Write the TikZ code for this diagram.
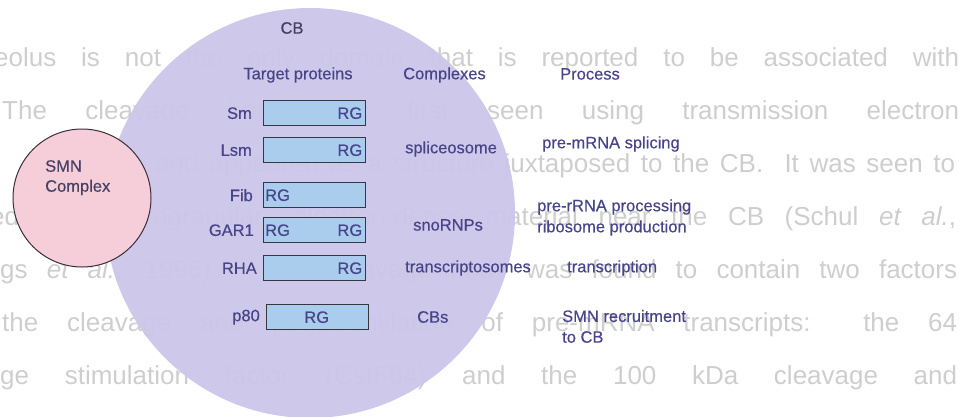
\documentclass[tikz,border=0pt]{standalone}
\usepackage{fontspec}
\setmainfont{Liberation Sans}
\newfontfamily\diagfont[FakeBold=0.4]{Liberation Sans}
\definecolor{dtext}{RGB}{72,68,138}
\definecolor{smntext}{RGB}{70,64,100}
\definecolor{boxline}{RGB}{55,55,65}
\definecolor{boxfill}{RGB}{170,205,238}
\definecolor{cbfill}{RGB}{204,198,233}
\definecolor{smnfill}{RGB}{246,206,218}
\definecolor{smnline}{RGB}{60,45,60}
\definecolor{bggray}{RGB}{206,206,206}
\begin{document}
\begin{tikzpicture}[x=1pt,y=-1pt,
  lbl/.style={text=dtext, font=\diagfont\fontsize{16.5}{19}\selectfont, inner sep=0pt},
  rgbox/.style={draw=boxline, line width=1.4pt, fill=boxfill, minimum width=102pt, minimum height=25pt, inner sep=0pt, anchor=north west},
  bgline/.style={text=bggray, font=\fontsize{26}{30}\selectfont, inner sep=0pt, anchor=west}]
\useasboundingbox (0,0) rectangle (959,416);
\clip (0,0) rectangle (959,416);
% background page text
\node[bgline] (bg1) at (-6,60) {\makebox[965pt][s]{eolus is not the only domain that is reported to be associated with}};
\node[bgline] (bg2) at (2,113) {\makebox[957pt][s]{The cleavage body was first seen using transmission electron}};
\node[bgline] (bg3) at (155,166) {\makebox[800pt][s]{and appeared as a structure juxtaposed to the CB.\ \ It was seen to}};
\node[bgline] (bg4) at (-10,219) {\makebox[966pt][s]{ed of a fibrogranular, electron-dense material near the CB (Schul \textit{et al.},}};
\node[bgline] (bg5) at (0,272) {\makebox[957pt][s]{gs \textit{et al.}, 1996). The cleavage body was found to contain two factors}};
\node[bgline] (bg6) at (2,325) {\makebox[955pt][s]{the cleavage and polyadenylation of pre-mRNA transcripts: the 64}};
\node[bgline] (bg7) at (0,378) {\makebox[957pt][s]{ge stimulation factor (CstF64) and the 100 kDa cleavage and}};
% circles
\node[circle, fill=cbfill, fill opacity=0.96, minimum size=410pt, inner sep=0pt] (cb) at (310,213) {};
\node[circle, draw=smnline, line width=1pt, fill=smnfill, minimum size=138pt, inner sep=0pt] (smn) at (82,198) {};
\node[lbl, text=smntext, align=left, anchor=north west] (smnt) at (45,160) {SMN\\[1pt]Complex};
% titles
\node[lbl, text=smntext] (cbt) at (292,28) {CB};
\node[lbl] (h1) at (298,75) {Target proteins};
\node[lbl, anchor=west] (h2) at (403,75) {Complexes};
\node[lbl, anchor=west] (h3) at (560,74) {Process};
% boxes
\node[rgbox] (bsm) at (263,100) {};
\node[rgbox] (blsm) at (263,137) {};
\node[rgbox] (bfib) at (263,182) {};
\node[rgbox] (bgar) at (263,217) {};
\node[rgbox] (brha) at (263,255) {};
\node[rgbox] (bp80) at (266,304) {};
% RG labels
\node[lbl, anchor=east] (rgsm) at ([xshift=-4pt]bsm.east) {RG};
\node[lbl, anchor=east] (rglsm) at ([xshift=-4pt]blsm.east) {RG};
\node[lbl, anchor=west] (rgfib) at ([xshift=2pt]bfib.west) {RG};
\node[lbl, anchor=west] (rggar1) at ([xshift=2pt]bgar.west) {RG};
\node[lbl, anchor=east] (rggar2) at ([xshift=-4pt]bgar.east) {RG};
\node[lbl, anchor=east] (rgrha) at ([xshift=-4pt]brha.east) {RG};
\node[lbl] (rgp80) at ([xshift=-1pt]bp80.center) {RG};
% protein names
\node[lbl, anchor=east] (nsm) at ([xshift=-11pt]bsm.west) {Sm};
\node[lbl, anchor=east] (nlsm) at ([xshift=-11pt]blsm.west) {Lsm};
\node[lbl, anchor=east] (nfib) at ([xshift=-10pt]bfib.west) {Fib};
\node[lbl, anchor=east] (ngar) at ([xshift=-9pt]bgar.west) {GAR1};
\node[lbl, anchor=east] (nrha) at ([xshift=-6pt]brha.west) {RHA};
\node[lbl, anchor=east] (np80) at ([xshift=-6pt]bp80.west) {p80};
% complexes
\node[lbl, anchor=west] (csp) at (405,149) {spliceosome};
\node[lbl, anchor=west] (csno) at (413,225) {snoRNPs};
\node[lbl, anchor=west] (ctr) at (405,268) {transcriptosomes};
\node[lbl, anchor=west] (ccb) at (417,317) {CBs};
% processes
\node[lbl, anchor=west] (p1) at (542,144) {pre-mRNA splicing};
\node[lbl, anchor=west] (p2) at (537,207) {pre-rRNA processing};
\node[lbl, anchor=west] (p3) at (537,228) {ribosome production};
\node[lbl, anchor=west] (p4) at (567,268) {transcription};
\node[lbl, anchor=west] (p5) at (562,316) {SMN recruitment};
\node[lbl, anchor=west] (p6) at (562,337) {to CB};
\end{tikzpicture}
\end{document}
